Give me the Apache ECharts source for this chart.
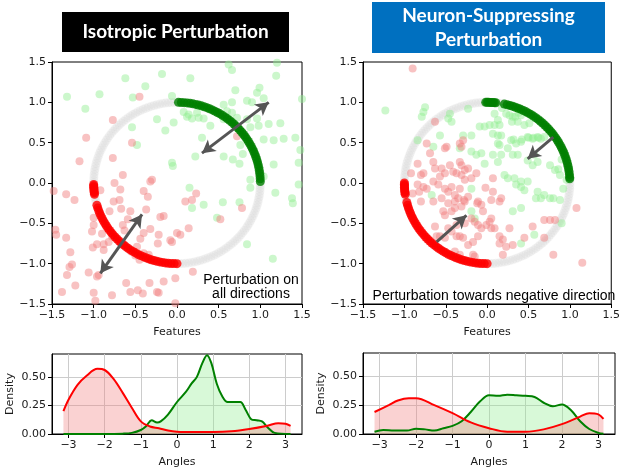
<!DOCTYPE html>
<html><head><meta charset="utf-8">
<script src="https://cdn.jsdelivr.net/npm/echarts@6/dist/echarts.min.js"></script>
<style>html,body{margin:0;padding:0;background:#fff}#c{width:623px;height:472px}</style>
</head><body><div id="c"></div>
<script>
// ---------- DATA ----------
const ringDeg = [0,2,4,6,8,10,12,14,16,18,20,22,24,26,28,30,32,34,36,38,40,42,44,46,48,50,52,54,56,58,60,62,64,66,68,70,72,74,76,78,80,82,84,86,88,90,92,94,96,98,100,102,104,106,108,110,112,114,116,118,120,122,124,126,128,130,132,134,136,138,140,142,144,146,148,150,152,154,156,158,160,162,164,166,168,170,172,174,176,178,180,182,184,186,188,190,192,194,196,198,200,202,204,206,208,210,212,214,216,218,220,222,224,226,228,230,232,234,236,238,240,242,244,246,248,250,252,254,256,258,260,262,264,266,268,270,272,274,276,278,280,282,284,286,288,290,292,294,296,298,300,302,304,306,308,310,312,314,316,318,320,322,324,326,328,330,332,334,336,338,340,342,344,346,348,350,352,354,356,358];
const leftGreenArcDeg = [1,3,5,7,9,11,13,15,17,19,21,23,25,27,29,31,33,35,37,39,41,43,45,47,49,51,53,55,57,59,61,63,65,67,69,71,73,75,77,79,81,83,85,87,89];
const leftRedArcDeg = [181,182,183,184,185,186,187,188,196,198,200,202,204,206,208,210,212,214,216,218,220,222,224,226,228,230,232,234,236,238,240,242,244,246,248,250,252,254,256,258,260,262,264,266,268,270];
const rightGreenArcDeg = [84,85,86,87,88,89,90,91,78,76,74,72,70,68,66,64,62,60,58,56,54,52,50,48,46,44,42,40,38,36,34,32,30,28,26,24,22,20,18,16,14,12,10,8,6,4,3];
const rightRedArcDeg = [180,181,182,183,184,185,186,187,188,194,196,198,200,202,204,206,208,210,212,214,216,218,220,222,224,226,228,230,232,234,236,238,240,242,244,246,248,250,252,254,256,258,260,262,264,266,268,270];

const leftGreenPts = [[-0.18,1.35],[0.62,1.47],[0.66,1.40],[1.20,1.49],[-0.62,1.30],[-0.38,1.20],[0.16,1.30],[1.19,1.33],[-1.32,1.07],[-0.93,1.10],[-0.53,1.06],[-0.06,1.08],[0.70,1.15],[0.96,1.12],[0.99,1.18],[0.84,1.02],[0.90,1.00],[1.04,1.05],[-1.10,0.92],
[-0.24,0.79],[-0.14,0.65],[-0.54,0.69],[-0.04,0.75],[0.08,0.88],[0.12,0.82],[0.18,0.80],[0.26,0.81],[0.32,0.80],[0.24,0.87],[0.14,0.85],[0.40,0.71],[0.30,0.56],
[0.56,0.97],[0.66,1.00],[0.60,0.89],[0.66,0.87],[0.56,0.79],[0.72,0.81],[0.84,0.79],[0.96,0.80],[0.88,0.69],[0.98,0.71],[1.10,0.73],[1.24,0.74],
[1.04,0.54],[1.16,0.53],[1.28,0.55],[1.42,0.56],[1.50,1.04],[-0.48,0.47],[0.22,0.33],[-0.06,0.25],[-0.05,0.21],[0.56,0.33],[0.67,0.29],[0.75,0.24],[0.79,0.36],[0.76,0.47],[1.16,0.23],[1.46,0.25],[1.48,0.41],
[1.04,0.08],[0.88,0.04],[0.88,-0.06],[1.18,-0.12],[1.46,-0.02],[1.38,-0.19],[1.39,-0.25],[0.15,-0.06],[0.18,-0.31],[0.32,-0.27],[0.55,-0.24],[0.75,-0.24],[0.48,-0.43],[0.84,-0.76],[1.15,-0.94]];
const leftRedPts = [[-0.45,1.07],[-0.77,0.78],[-1.09,0.56],[-0.54,0.50],[0.72,0.58],[-1.17,0.27],[-0.77,0.31],[-0.65,0.10],[-0.75,0.0],[-0.68,-0.08],[-0.92,-0.09],[-0.30,0.04],[-0.32,0.02],[-0.40,-0.10],[-0.35,-0.17],[-1.33,-0.14],[-1.23,-0.21],[-1.48,-0.10],[-0.76,-0.23],[-0.69,-0.21],[-0.67,-0.32],[-0.56,-0.35],[-0.81,-0.35],[-0.37,-0.33],[-0.59,-0.45],[-0.20,-0.42],[-0.16,-0.41],[0.10,-0.23],[0.18,-0.21],[0.23,-0.13],[0.78,-0.31],[0.52,-0.45],[-1.0,-0.43],
[-1.46,-0.58],[-1.45,-0.64],[-1.33,-0.68],[-1.28,-0.86],[-1.32,-1.14],[-1.38,-1.35],[-1.22,-1.27],[-1.26,-1.01],[-1.29,-1.04],[-1.06,-1.11],[-0.96,-1.16],[-0.94,-1.14],[-1.0,-1.36],[-0.98,-1.46],[-0.78,-1.39],[-1.01,-0.80],[-0.96,-0.76],[-0.88,-0.76],[-0.88,-0.83],[-1.02,-0.60],[-1.0,-0.52],[-0.90,-0.63],[-0.82,-0.73],[-0.78,-0.66],[-0.65,-0.52],[-0.63,-0.59],[-0.61,-1.24],[-0.56,-1.35],[-0.47,-1.33],[-0.41,-1.37],[-0.33,-1.24],[-0.24,-1.35],[-0.22,-1.36],[-0.16,-1.22],[-0.02,-1.18],[-0.02,-1.49],[0.19,-1.10],[-0.48,-0.79],[-0.40,-0.87],[-0.34,-0.89],[-0.32,-0.95],[-0.22,-0.64],[-0.23,-0.75],[-0.08,-0.71],[-0.06,-0.73],[0.0,-0.62],[0.14,-0.56],[-0.44,-0.69],[-0.40,-0.62],[-0.32,-0.57],[-0.50,-0.90],[-0.45,-0.95],[-0.55,-0.85],[0.04,-0.64]];
const rightGreenPts = [[-1.23,0.90],[-0.75,0.94],[-0.77,0.88],[-0.79,0.82],[-0.47,0.80],[-0.43,0.76],[-0.45,0.86],[-0.84,0.53],[-0.65,0.45],[-0.29,0.59],[-0.19,0.59],[-0.23,0.92],[-0.33,0.43],[-0.19,0.39],[-0.13,0.35],[-0.07,0.37],[-0.03,0.24],[0.07,0.35],[0.17,0.35],[0.13,0.26],[0.09,0.86],[0.13,0.78],[0.09,0.72],[0.15,0.72],[-0.09,0.70],[-0.03,0.70],[0.03,0.72],[0.07,0.61],[0.13,0.59],[0.17,0.59],[0.13,0.49],[0.15,0.47],[0.23,0.86],[0.27,0.84],[0.31,0.82],[0.37,0.76],[0.41,0.84],[0.45,0.72],[0.29,0.53],[0.35,0.49],[0.41,0.51],[0.25,0.43],[0.31,0.35],[0.37,0.35],[0.49,0.57],[0.55,0.55],[0.61,0.57],[0.65,0.55],[0.69,0.57],[0.51,0.74],[0.49,0.28],[0.57,0.35],[0.61,0.26],[0.21,0.10],[0.25,0.06],[0.33,0.06],[0.35,-0.02],[0.41,0.02],[0.41,-0.05],[0.45,-0.09],[0.49,0.02],[0.61,-0.11],[0.59,-0.19],[0.65,-0.19],[0.69,-0.15],[0.76,-0.19],[0.80,-0.19],[0.88,-0.21],[0.92,-0.07],[0.96,0.04],[0.76,0.22],[0.82,0.16],[0.88,0.10],[0.31,-0.35],[0.41,-0.31],[-0.15,-0.44],[-0.19,-0.35],[0.90,-0.50],[0.57,-0.64],[0.41,-0.75],[-0.19,-0.07],[-0.67,-0.15],[-0.57,0.59],[0.18,0.93],[0.30,0.76],[0.34,0.82],[0.38,0.87],[0.32,0.54],[0.42,0.54],[0.50,0.56],[0.56,0.56],[0.62,0.56],[0.86,0.17],[0.90,0.29],[0.55,0.22]];
const rightRedPts = [[-0.90,1.42],[-0.63,0.76],[-0.73,0.49],[-0.51,0.43],[-0.33,0.49],[-0.31,0.45],[-0.69,0.37],[-0.84,0.24],[-0.65,0.26],[-0.63,0.18],[-0.92,0.12],[-0.80,0.10],[-0.77,0.12],[-0.55,0.18],[-0.51,0.12],[-0.57,0.08],[-0.45,0.22],[-0.41,0.14],[-0.33,0.26],[-0.31,0.22],[-0.37,0.12],[-0.31,0.10],[-0.27,0.16],[-0.23,0.18],[-0.19,0.06],[-0.13,0.12],[-0.27,0.04],
[-0.84,-0.02],[-0.77,-0.05],[-0.65,0.02],[-0.73,-0.07],[-0.82,-0.11],[-0.90,-0.13],[-0.59,-0.02],[-0.51,-0.07],[-0.47,-0.11],[-0.43,-0.05],[-0.39,-0.15],[-0.33,-0.07],[-0.80,-0.23],[-0.65,-0.23],[-0.55,-0.19],[-0.47,-0.25],[-0.39,-0.23],[-0.35,-0.19],[-0.31,-0.29],[-0.27,-0.23],[-0.23,-0.17],[-0.53,-0.35],[-0.51,-0.40],[-0.43,-0.35],[-0.39,-0.31],[-0.37,-0.52],[-0.27,-0.50],[-0.19,-0.44],[-0.15,-0.48],[-0.11,-0.52],[-0.63,-0.54],[-0.61,-0.66],[-0.57,-0.66],[-0.51,-0.68],[-0.47,-0.56],[-0.43,-0.60],[-0.37,-0.66],[-0.33,-0.66],[-0.29,-0.68],[-0.23,-0.77],[-0.17,-0.73],[-0.11,-0.66],[-0.07,-0.56],[-0.01,-0.52],[0.03,-0.48],[0.05,-0.44],[-0.05,-0.35],[-0.07,-0.27],[0.09,-0.56],[0.15,-0.66],[0.19,-0.70],[0.15,-0.75],[0.23,-0.79],[0.27,-0.56],[0.31,-0.77],[0.19,-0.89],[0.05,-0.56],[0.45,-0.68],[0.55,-0.54],[0.69,-0.46],[0.82,-0.46],[0.69,-0.68],[0.80,-0.89],[1.08,-0.31],[1.15,-0.99],[-0.11,-0.23],[0.05,-0.21],[0.07,0.06],[0.07,-0.11],[0.17,-0.19],[0.15,-0.23],[-0.15,-0.91],[-0.17,-0.89],[-0.33,-0.89],[-0.39,-0.85],[-0.02,-0.06],[-0.12,-0.25],[-0.28,-0.21],[-0.49,0.45],[-0.29,0.53],[0.76,-0.46]];

const leftArrows = [[[0.30,0.37],[1.10,1.00]],[[-0.42,-0.39],[-0.92,-1.12]]];
const rightArrows = [[[0.80,0.57],[0.49,0.30]],[[-0.61,-0.73],[-0.25,-0.40]]];

const leftRedKde = [[-3.14,0.20],[-3.0,0.30],[-2.75,0.43],[-2.5,0.51],[-2.2,0.57],[-2.0,0.56],[-1.75,0.48],[-1.5,0.36],[-1.25,0.23],[-1.0,0.11],[-0.75,0.066],[-0.5,0.05],[-0.25,0.03],[0,0.02],[0.5,0.017],[1.0,0.017],[1.5,0.023],[2.0,0.043],[2.5,0.072],[2.8,0.095],[3.0,0.09],[3.14,0.072]];
const leftGreenKde = [[-3.14,0.0],[-2.0,0.0],[-1.5,0.003],[-1.25,0.01],[-1.0,0.035],[-0.85,0.07],[-0.7,0.12],[-0.55,0.10],[-0.45,0.11],[-0.25,0.17],[0,0.28],[0.25,0.37],[0.4,0.44],[0.55,0.50],[0.7,0.62],[0.83,0.69],[0.95,0.62],[1.1,0.44],[1.25,0.33],[1.4,0.28],[1.6,0.28],[1.75,0.28],[1.9,0.21],[2.05,0.13],[2.2,0.12],[2.35,0.11],[2.5,0.06],[2.7,0.01],[3.14,0.0]];
const rightRedKde = [[-3.14,0.19],[-2.75,0.25],[-2.5,0.29],[-2.2,0.31],[-2.0,0.31],[-1.5,0.25],[-1.0,0.18],[-0.5,0.10],[0,0.05],[0.5,0.02],[1.0,0.02],[1.5,0.04],[2.0,0.085],[2.5,0.15],[2.75,0.18],[3.0,0.17],[3.14,0.13]];
const rightGreenKde = [[-3.14,0.02],[-2.9,0.035],[-2.6,0.03],[-2.25,0.03],[-2.0,0.046],[-1.75,0.04],[-1.5,0.03],[-1.25,0.05],[-1.0,0.07],[-0.75,0.11],[-0.5,0.19],[-0.25,0.28],[0,0.335],[0.25,0.33],[0.5,0.34],[0.75,0.335],[1.0,0.33],[1.25,0.32],[1.5,0.27],[1.75,0.24],[2.0,0.255],[2.25,0.205],[2.5,0.11],[2.75,0.043],[3.0,0.01],[3.14,0.003]];

const angleTicks = [-3,-2,-1,0,1,2,3];
const densityTicks = [0,0.25,0.5];

// ---------- CHART ----------
const toXY = d => [Math.cos(d*Math.PI/180), Math.sin(d*Math.PI/180)];
const minus = s => s.replace('-', '\u2212');
const FONT = '"DejaVu Sans", sans-serif';
const TXT = '#1a1a1a';

function scatterAxis(gi, isX) {
  const a = {
    type:'value', gridIndex:gi, min:-1.5, max:1.5, interval:0.5,
    axisLine:{show:true, onZero:false, lineStyle:{color:'#000', width:1}},
    axisTick:{show:true, length:4, lineStyle:{color:'#000'}},
    axisLabel:{fontFamily:FONT, fontSize:11, color:TXT, margin:6, formatter:v=>minus(v.toFixed(1))},
    splitLine:{show:false}
  };
  if (isX) { a.name='Features'; a.nameLocation='middle'; a.nameGap=23; a.nameTextStyle={fontFamily:FONT,fontSize:11,color:TXT}; }
  return a;
}
function densX(gi) {
  return {type:'value', gridIndex:gi, min:-3.456, max:3.456,
    name:'Angles', nameLocation:'middle', nameGap:23, nameTextStyle:{fontFamily:FONT,fontSize:11,color:TXT},
    axisLine:{show:true, onZero:false, lineStyle:{color:'#000'}},
    axisTick:{show:true, length:4, customValues:angleTicks, lineStyle:{color:'#000'}},
    axisLabel:{customValues:angleTicks, fontFamily:FONT, fontSize:11, color:TXT, margin:6, formatter:v=>minus(String(v))},
    splitLine:{show:true, lineStyle:{color:'#cccccc', width:1}}};
}
function densY(gi) {
  return {type:'value', gridIndex:gi, min:0, max:0.7,
    name:'Density', nameLocation:'middle', nameGap:36, nameRotate:90, nameTextStyle:{fontFamily:FONT,fontSize:11,color:TXT},
    axisLine:{show:true, onZero:false, lineStyle:{color:'#000'}},
    axisTick:{show:true, length:4, customValues:densityTicks, lineStyle:{color:'#000'}},
    axisLabel:{customValues:densityTicks, fontFamily:FONT, fontSize:11, color:TXT, margin:6, formatter:v=>v.toFixed(2)},
    splitLine:{show:true, lineStyle:{color:'#cccccc', width:1}}};
}
function arrowLine(arr, both) {
  return {silent:true, symbol: both?['arrow','arrow']:['none','arrow'], symbolSize:[11,13], animation:false,
    lineStyle:{color:'#555', width:3, type:'solid'}, label:{show:false}, emphasis:{disabled:true},
    data: arr.map(p=>[{coord:p[0]},{coord:p[1]}])};
}
function scatterPanel(idx, greenPts, redPts, gArc, rArc, arrows, both) {
  const base = {type:'scatter', xAxisIndex:idx, yAxisIndex:idx, silent:true};
  return [
    Object.assign({}, base, {data:ringDeg.map(toXY), symbolSize:9, itemStyle:{color:'rgba(175,175,175,0.16)'}}),
    Object.assign({}, base, {data:greenPts, symbolSize:8, itemStyle:{color:'rgba(144,238,144,0.58)'}}),
    Object.assign({}, base, {data:redPts, symbolSize:8, itemStyle:{color:'rgba(240,128,128,0.6)'}}),
    Object.assign({}, base, {data:gArc.map(toXY), symbolSize:9, itemStyle:{color:'#008000'}}),
    Object.assign({}, base, {data:rArc.map(toXY), symbolSize:9, itemStyle:{color:'#ff0000'}, markLine:arrowLine(arrows, both)})
  ];
}
function kde(idx, data, line, fill) {
  return {type:'line', xAxisIndex:idx, yAxisIndex:idx, data, smooth:0.35, showSymbol:false, silent:true,
    lineStyle:{color:line, width:2}, areaStyle:{color:fill}};
}

const chart = echarts.init(document.getElementById('c'), null, {renderer:'canvas'});
chart.setOption({
  animation:false,
  grid:[
    {left:52, top:62, width:250, height:242, show:true, borderColor:'#000', borderWidth:1, backgroundColor:'transparent'},
    {left:363, top:62, width:252, height:242, show:true, borderColor:'#000', borderWidth:1, backgroundColor:'transparent'},
    {left:52, top:354, width:250, height:80, show:true, borderColor:'#000', borderWidth:1, backgroundColor:'transparent'},
    {left:363, top:353, width:252, height:81, show:true, borderColor:'#000', borderWidth:1, backgroundColor:'transparent'}
  ],
  xAxis:[scatterAxis(0,true), scatterAxis(1,true), densX(2), densX(3)],
  yAxis:[scatterAxis(0,false), scatterAxis(1,false), densY(2), densY(3)],
  series:[].concat(
    scatterPanel(0, leftGreenPts, leftRedPts, leftGreenArcDeg, leftRedArcDeg, leftArrows, true),
    scatterPanel(1, rightGreenPts, rightRedPts, rightGreenArcDeg, rightRedArcDeg, rightArrows, false),
    [kde(2, leftGreenKde, '#008000', 'rgba(144,238,144,0.5)'), kde(2, leftRedKde, '#ff0000', 'rgba(240,128,128,0.5)'),
     kde(3, rightGreenKde, '#008000', 'rgba(144,238,144,0.5)'), kde(3, rightRedKde, '#ff0000', 'rgba(240,128,128,0.5)')]
  ),
  graphic:[
    {type:'rect', shape:{x:62,y:12,width:227,height:40}, style:{fill:'#000'}, z:10},
    {type:'text', x:175.5, y:32, z:11, style:{text:'Isotropic Perturbation', fill:'#fff', fontFamily:'Lato', fontWeight:'bold', fontSize:19, align:'center', verticalAlign:'middle'}},
    {type:'rect', shape:{x:372,y:2,width:233,height:51}, style:{fill:'#0070C0'}, z:10},
    {type:'text', x:488.5, y:16, z:11, style:{text:'Neuron-Suppressing', fill:'#fff', fontFamily:'Lato', fontWeight:'bold', fontSize:19, align:'center', verticalAlign:'middle'}},
    {type:'text', x:488.5, y:40, z:11, style:{text:'Perturbation', fill:'#fff', fontFamily:'Lato', fontWeight:'bold', fontSize:19, align:'center', verticalAlign:'middle'}},
    {type:'text', x:251, y:280, z:11, style:{text:'Perturbation on', fill:'#000', fontFamily:'Liberation Sans', fontSize:14, align:'center', verticalAlign:'middle'}},
    {type:'text', x:251, y:294, z:11, style:{text:'all directions', fill:'#000', fontFamily:'Liberation Sans', fontSize:14, align:'center', verticalAlign:'middle'}},
    {type:'text', x:494, y:296, z:11, style:{text:'Perturbation towards negative direction', fill:'#000', fontFamily:'Liberation Sans', fontSize:14, align:'center', verticalAlign:'middle'}}
  ]
});
</script>
</body></html>
